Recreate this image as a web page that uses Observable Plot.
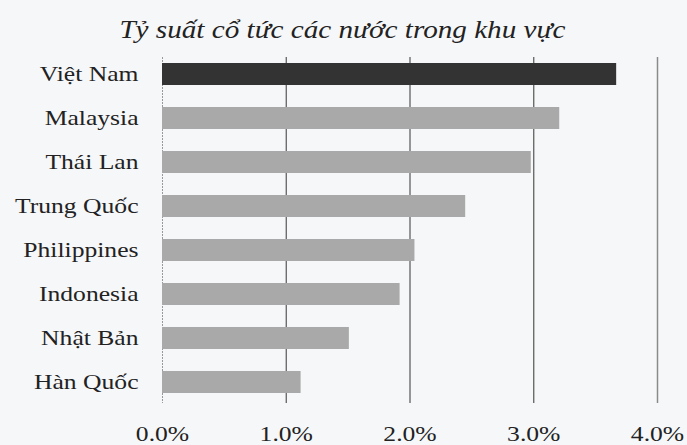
<!DOCTYPE html>
<html>
<head>
<meta charset="utf-8">
<script src="https://cdn.jsdelivr.net/npm/d3@7"></script>
<script src="https://cdn.jsdelivr.net/npm/@observablehq/plot@0.6"></script>
<style>
  html, body { margin: 0; padding: 0; background: #f6f7f9; }
  #wrap { width: 687px; height: 445px; position: relative; overflow: hidden; }
  #title { position: absolute; left: 0; top: 16px; width: 687px; text-align: center;
           font-family: "Liberation Serif", serif; font-style: italic; font-size: 24.5px; color: #222; }
  #title span { display: inline-block; transform: scaleX(1.19); position: relative; left: -1px; }
  #chart { position: absolute; left: 0; top: 45px; }
</style>
</head>
<body>
<div id="wrap">
  <div id="title"><span>Tỷ suất cổ tức các nước trong khu vực</span></div>
  <div id="chart"></div>
</div>
<script>
const countries = ["Việt Nam", "Malaysia", "Thái Lan", "Trung Quốc", "Philippines", "Indonesia", "Nhật Bản", "Hàn Quốc"];
const values = [3.67, 3.21, 2.98, 2.45, 2.04, 1.92, 1.51, 1.12];
const highlight = ["Việt Nam"];
const xTicks = [0, 1, 2, 3, 4];
const xTickLabels = ["0.0%", "1.0%", "2.0%", "3.0%", "4.0%"];

const data = countries.map((c, i) => ({country: c, value: values[i]}));

const plot = Plot.plot({
  width: 687,
  height: 400,
  marginLeft: 162,
  marginRight: 30,
  marginTop: 12,
  marginBottom: 42,
  style: {background: "transparent", fontFamily: "Liberation Serif, serif", fontSize: "21px", color: "#222"},
  x: {domain: [0, 4], ticks: xTicks},
  y: {domain: countries, paddingInner: 0.5, paddingOuter: 0.182, align: 0.375, round: false},
  marks: [
    Plot.ruleX([0], {stroke: "#999", strokeWidth: 1, strokeDasharray: "2,1"}),
    Plot.ruleX(xTicks.filter(d => d > 0 && d < 4), {stroke: "#555", strokeWidth: 1.2}),
    Plot.ruleX([4], {stroke: "#8a8a8a", strokeWidth: 1.5}),
    Plot.barX(data, {x: "value", y: "country", fill: d => highlight.includes(d.country) ? "#333333" : "#a9a9a9"}),
    Plot.axisX({ticks: xTicks, tickFormat: d => xTickLabels[xTicks.indexOf(d)], tickSize: 0, tickPadding: 23, fontSize: 21, label: null}),
    Plot.axisY({tickSize: 0, tickPadding: 24, fontSize: 21, label: null})
  ]
});
// widen the serif glyphs horizontally like the scanned original
plot.querySelectorAll("g[aria-label='x-axis tick label'] text, g[aria-label='y-axis tick label'] text").forEach(t => {
  const tr = t.getAttribute("transform") || "";
  t.setAttribute("transform", tr + " scale(1.22,1)");
});
document.getElementById("chart").appendChild(plot);
</script>
</body>
</html>
